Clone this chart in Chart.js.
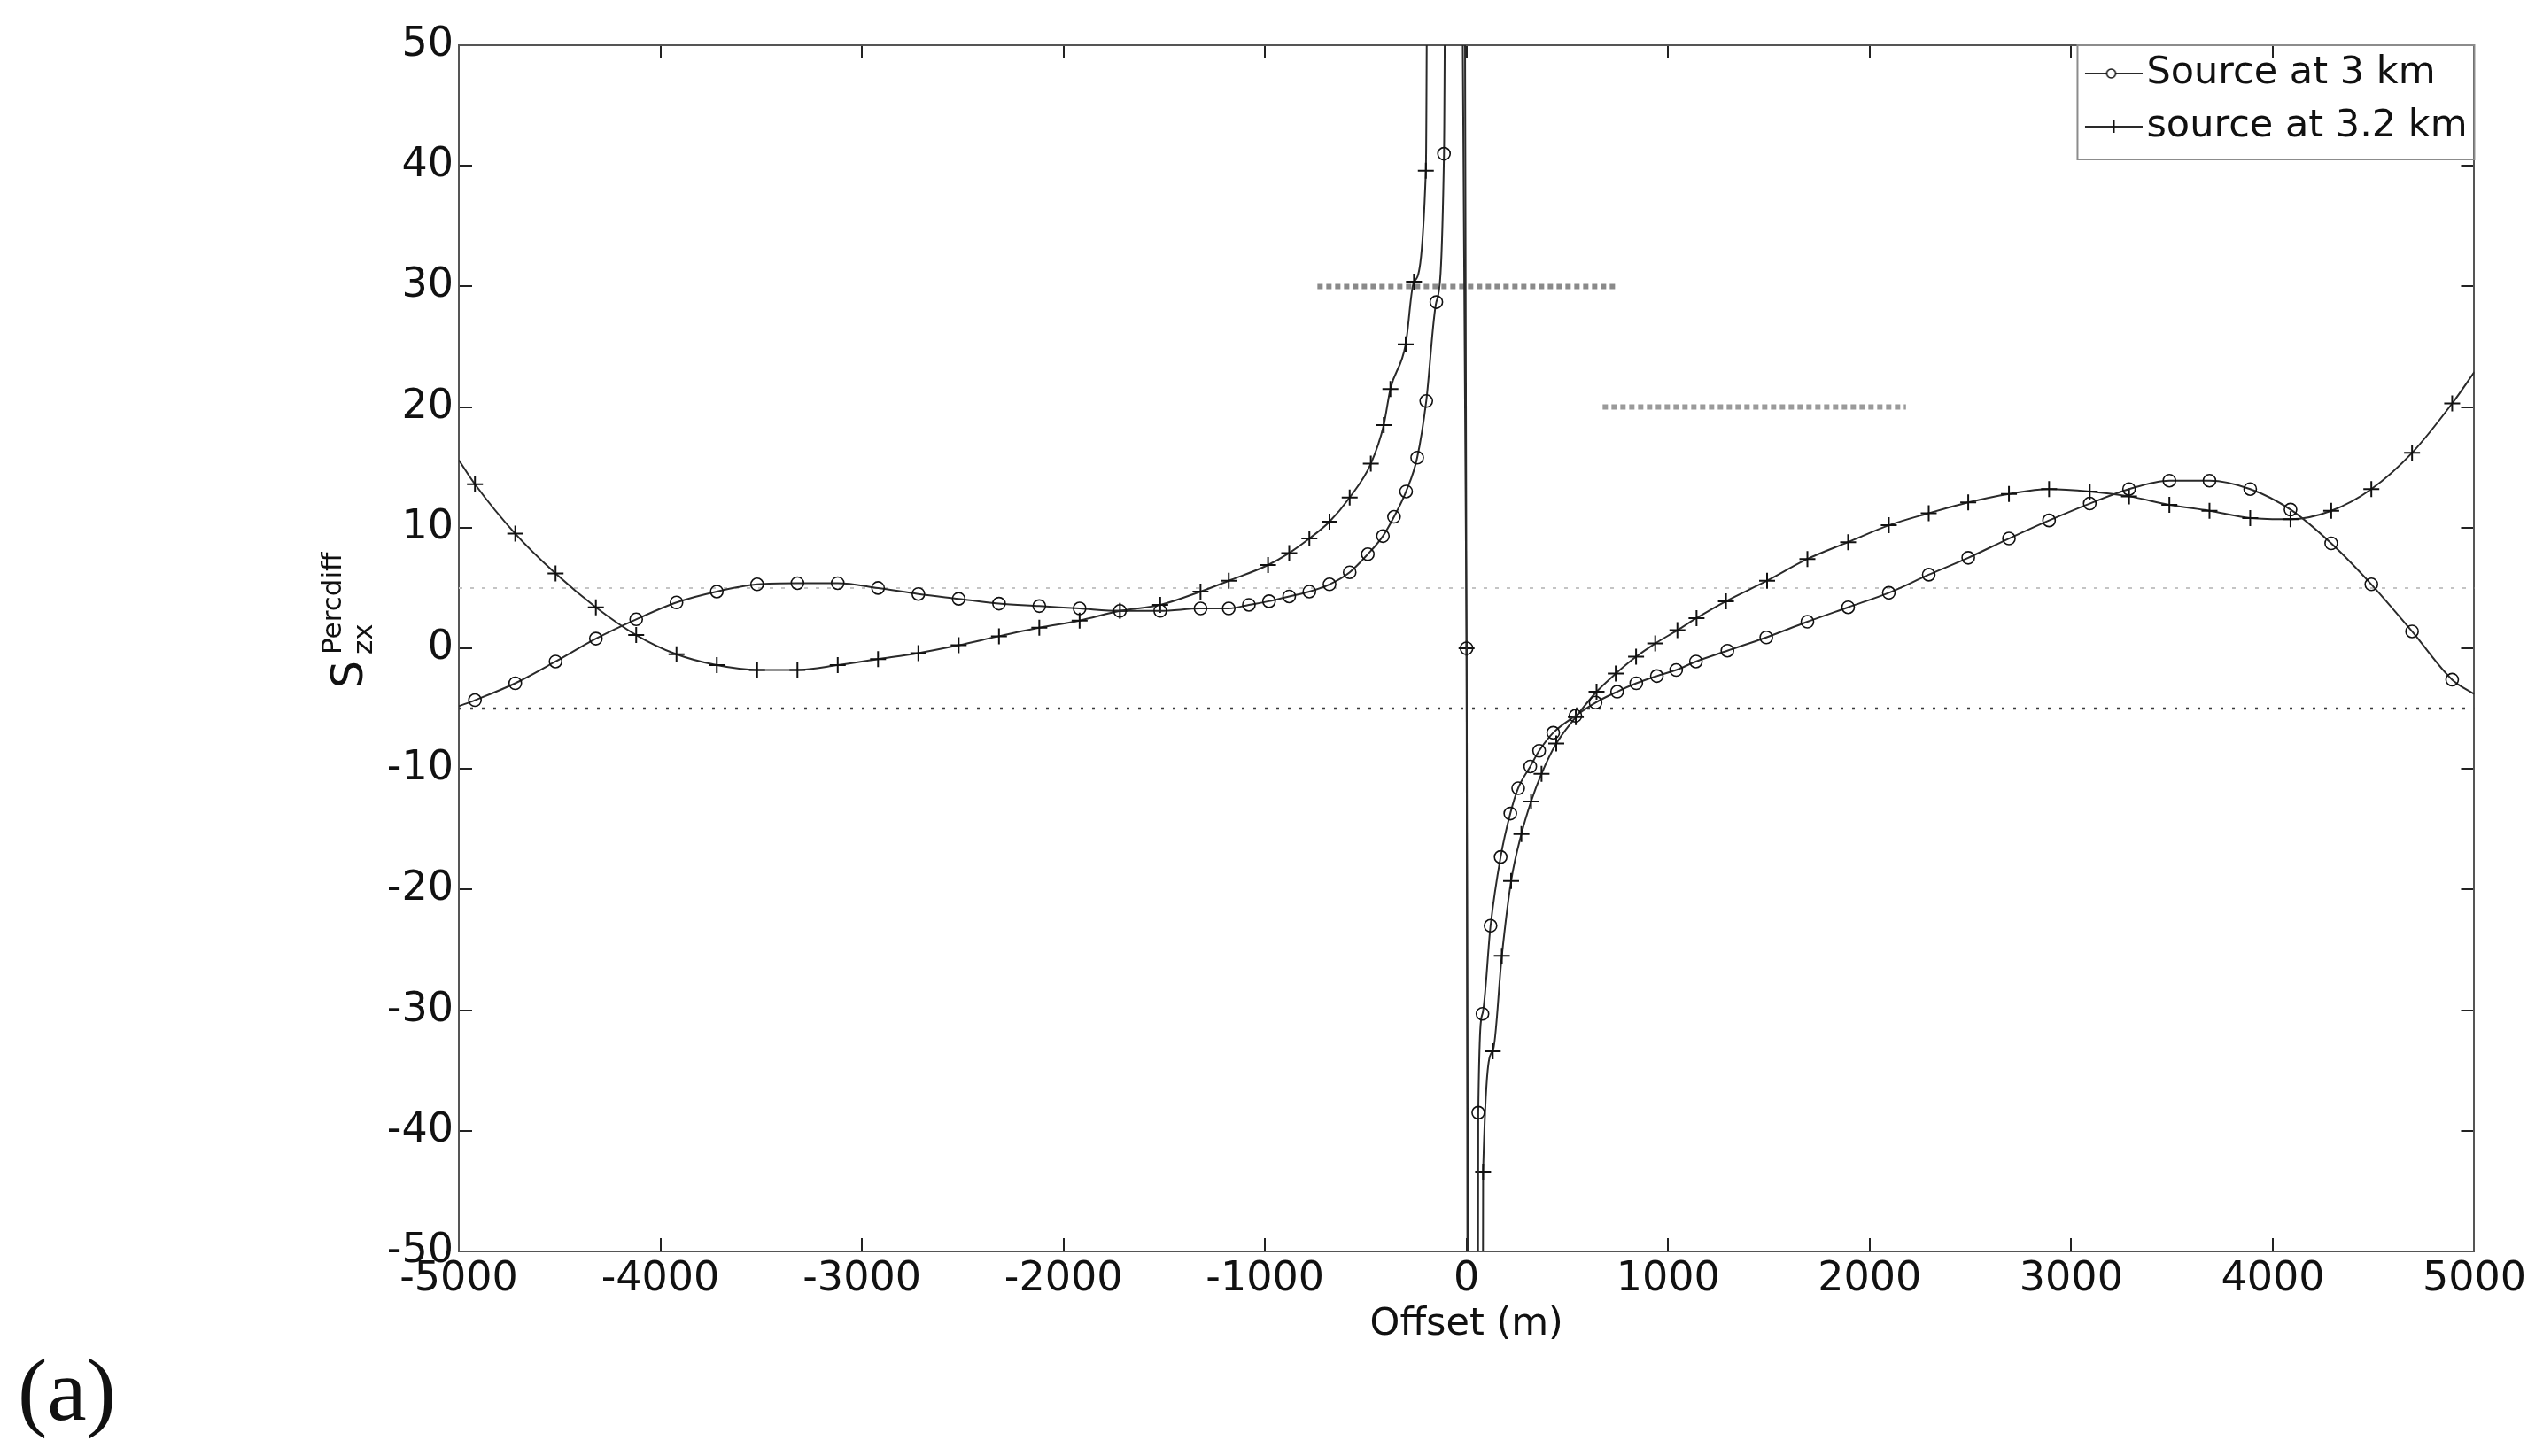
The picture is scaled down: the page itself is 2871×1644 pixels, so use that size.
<!DOCTYPE html>
<html>
<head>
<meta charset="utf-8">
<script src="https://cdn.jsdelivr.net/npm/chart.js@4.4.1/dist/chart.umd.min.js"></script>
<style>
  html, body { margin: 0; padding: 0; background: #ffffff; }
  #wrap { width: 2871px; height: 1644px; }
</style>
</head>
<body>
<div id="wrap"><canvas id="c" width="2871" height="1644" style="width:2871px;height:1644px"></canvas></div>
<script>
// ---------------- data ----------------
const xTicks = [-5000, -4000, -3000, -2000, -1000, 0, 1000, 2000, 3000, 4000, 5000];
const yTicks = [-50, -40, -30, -20, -10, 0, 10, 20, 30, 40, 50];

const seriesNames = ['Source at 3 km', 'source at 3.2 km'];

// Source at 3 km (circles)
const s1X = [-5000, -4920, -4720, -4520, -4320, -4120, -3920, -3720, -3520, -3320,
             -3120, -2920, -2720, -2520, -2320, -2120, -1920, -1720, -1520, -1320,
             -1180, -1080, -980, -880, -780, -680, -580, -490, -415, -360,
             -300, -245, -200, -150, -112, -60, 0, 30, 58, 79,
             119, 169, 217, 256, 316, 360, 430, 540, 640, 747,
             842, 944, 1040, 1138, 1294, 1487, 1691, 1893, 2095, 2293,
             2489, 2691, 2890, 3092, 3287, 3487, 3686, 3888, 4088, 4290,
             4489, 4691, 4890, 5000];
const s1Y = [-4.8, -4.3, -2.9, -1.1, 0.8, 2.4, 3.8, 4.7, 5.3, 5.4,
             5.4, 5.0, 4.5, 4.1, 3.7, 3.5, 3.3, 3.1, 3.1, 3.3,
             3.3, 3.6, 3.9, 4.3, 4.7, 5.3, 6.3, 7.8, 9.3, 10.9,
             13.0, 15.8, 20.5, 28.7, 41.0, 400, 0, -400, -38.5, -30.3,
             -23.0, -17.3, -13.7, -11.6, -9.8, -8.5, -7.0, -5.6, -4.5, -3.6,
             -2.9, -2.3, -1.8, -1.1, -0.2, 0.9, 2.2, 3.4, 4.6, 6.1,
             7.5, 9.1, 10.6, 12.0, 13.2, 13.9, 13.9, 13.2, 11.5, 8.7,
             5.3, 1.4, -2.6, -3.8];

// source at 3.2 km (plus)
const s2X = [-5000, -4920, -4720, -4520, -4320, -4120, -3920, -3720, -3520, -3320,
             -3120, -2920, -2720, -2520, -2320, -2120, -1920, -1720, -1520, -1320,
             -1180, -985, -880, -780, -680, -580, -475, -411, -378, -302,
             -261, -202, -150, 0, 50, 82, 130, 175, 221, 272,
             320, 372, 445, 542, 645, 740, 841, 936, 1046, 1141,
             1287, 1491, 1691, 1893, 2095, 2293, 2489, 2691, 2890, 3092,
             3287, 3487, 3686, 3888, 4088, 4290, 4489, 4691, 4890, 5000];
const s2Y = [15.6, 13.6, 9.5, 6.2, 3.4, 1.1, -0.5, -1.4, -1.8, -1.8,
             -1.4, -0.9, -0.4, 0.25, 1.0, 1.7, 2.3, 3.1, 3.6, 4.7,
             5.6, 6.9, 7.9, 9.1, 10.5, 12.5, 15.3, 18.5, 21.5, 25.2,
             30.4, 39.6, 400, 0, -400, -43.4, -33.4, -25.5, -19.3, -15.4,
             -12.7, -10.4, -7.9, -5.7, -3.6, -2.1, -0.7, 0.4, 1.5, 2.5,
             3.9, 5.6, 7.4, 8.8, 10.2, 11.2, 12.1, 12.8, 13.2, 13.0,
             12.6, 11.9, 11.4, 10.8, 10.7, 11.4, 13.2, 16.2, 20.3, 22.9];

// reference lines
const refX = [-5000, 5000];
const refUpperY = [5, 5];
const refLowerY = [-5, -5];
const hatch30X = [-740, 740];
const hatch30Y = [30, 30];
const hatch20X = [675, 2180];
const hatch20Y = [20, 20];

// ---------------- helpers ----------------
const zip = (xs, ys) => xs.map((x, i) => ({ x: x, y: ys[i] }));
const FONT = 'DejaVu Sans';
const LINE = '#2a2a2a';

function makeIcon(kind) {
  const c = document.createElement('canvas');
  c.width = 66; c.height = 20;
  const g = c.getContext('2d');
  g.strokeStyle = LINE; g.lineWidth = 2;
  g.beginPath(); g.moveTo(0, 10); g.lineTo(66, 10); g.stroke();
  g.strokeStyle = '#111';
  if (kind === 'circle') {
    g.beginPath(); g.arc(30, 10, 5, 0, Math.PI * 2);
    g.fillStyle = '#fff'; g.fill(); g.lineWidth = 1.6; g.stroke();
  } else {
    g.lineWidth = 2;
    g.beginPath(); g.moveTo(33, 3); g.lineTo(33, 17); g.stroke();
  }
  return c;
}
const icons = [makeIcon('circle'), makeIcon('cross')];

const markerRadius = (n, r) => (ctx) => (ctx.dataIndex === 0 || ctx.dataIndex === n - 1) ? 0 : r;

const tickGrid = {
  display: true, drawOnChartArea: false, drawTicks: true,
  tickLength: -15, color: '#222', lineWidth: 2
};
const axisBorder = { display: true, color: '#555', width: 2 };

// ---------------- plugins ----------------
const decorations = {
  id: 'decorations',
  afterLayout(chart) {
    const lg = chart.legend, ca = chart.chartArea;
    if (lg) {
      lg.left = ca.right - 439.5;
      lg.top = ca.top - 6.5;
    }
  },
  afterDraw(chart) {
    const ctx = chart.ctx, ca = chart.chartArea;
    ctx.save();
    // legend frame
    ctx.strokeStyle = '#8c8c8c';
    ctx.lineWidth = 2;
    ctx.strokeRect(ca.right - 448, ca.top, 448, 129);
    // y-axis title  S_zx^Percdiff
    ctx.fillStyle = '#111';
    ctx.translate(ca.left - 109, (ca.top + ca.bottom) / 2 + 45);
    ctx.rotate(-Math.PI / 2);
    ctx.textAlign = 'left';
    ctx.textBaseline = 'alphabetic';
    ctx.font = '49px "' + FONT + '"';
    ctx.fillText('S', 0, 0);
    ctx.font = '31px "' + FONT + '"';
    ctx.fillText('zx', 38, 11);
    ctx.fillText('Percdiff', 38, -24);
    ctx.restore();
    // panel label
    ctx.save();
    ctx.fillStyle = '#111';
    ctx.font = '100px "Liberation Serif"';
    ctx.textAlign = 'left';
    ctx.textBaseline = 'alphabetic';
    ctx.fillText('(a)', 20, 1603);
    ctx.restore();
  }
};

// ---------------- chart ----------------
const n1 = s1X.length, n2 = s2X.length;

new Chart(document.getElementById('c'), {
  type: 'line',
  data: {
    datasets: [
      {
        label: seriesNames[0],
        data: zip(s1X, s1Y),
        borderColor: LINE, borderWidth: 2,
        cubicInterpolationMode: 'monotone',
        pointStyle: 'circle',
        pointRadius: markerRadius(n1, 7),
        pointBorderColor: '#111', pointBorderWidth: 1.6,
        pointBackgroundColor: 'rgba(255,255,255,0)'
      },
      {
        label: seriesNames[1],
        data: zip(s2X, s2Y),
        borderColor: LINE, borderWidth: 2,
        cubicInterpolationMode: 'monotone',
        pointStyle: 'cross',
        pointRadius: markerRadius(n2, 9),
        pointBorderColor: '#111', pointBorderWidth: 2
      },
      {
        label: 'ref+5', data: zip(refX, refUpperY),
        borderColor: '#c4c4c4', borderWidth: 2, borderDash: [4, 9], pointRadius: 0
      },
      {
        label: 'ref-5', data: zip(refX, refLowerY),
        borderColor: '#3a3a3a', borderWidth: 2.5, borderDash: [3, 10], pointRadius: 0
      },
      {
        label: 'mark30', data: zip(hatch30X, hatch30Y),
        borderColor: '#8a8a8a', borderWidth: 6, borderDash: [6, 4], pointRadius: 0
      },
      {
        label: 'mark20', data: zip(hatch20X, hatch20Y),
        borderColor: '#9a9a9a', borderWidth: 6, borderDash: [6, 4], pointRadius: 0
      }
    ]
  },
  options: {
    responsive: false,
    devicePixelRatio: 1,
    animation: false,
    layout: { padding: { left: 0, right: 70, top: 51, bottom: 0 } },
    plugins: {
      tooltip: { enabled: false },
      legend: {
        display: true,
        position: 'chartArea',
        align: 'start',
        labels: {
          color: '#111',
          font: { family: FONT, size: 43 },
          padding: 17,
          usePointStyle: true,
          pointStyleWidth: 31,
          filter: (item) => item.datasetIndex < 2,
          generateLabels: (chart) => {
            const base = Chart.defaults.plugins.legend.labels.generateLabels(chart);
            return base.filter(it => it.datasetIndex < 2).map(it => {
              it.pointStyle = icons[it.datasetIndex];
              it.lineWidth = 0;
              return it;
            });
          }
        }
      }
    },
    scales: {
      x: {
        type: 'linear', position: 'bottom',
        min: xTicks[0], max: xTicks[xTicks.length - 1],
        afterBuildTicks: (s) => { s.ticks = xTicks.map(v => ({ value: v })); },
        ticks: {
          color: '#111', font: { family: FONT, size: 46 }, padding: 19,
          maxRotation: 0, autoSkip: false,
          callback: (v) => String(v)
        },
        grid: tickGrid,
        border: axisBorder,
        title: {
          display: true, text: 'Offset (m)', color: '#111',
          font: { family: FONT, size: 43 }, padding: { top: 0, bottom: 122 }
        },
        afterFit: (s) => { s.height = 231; }
      },
      y: {
        type: 'linear', position: 'left',
        min: yTicks[0], max: yTicks[yTicks.length - 1],
        afterBuildTicks: (s) => { s.ticks = yTicks.map(v => ({ value: v })); },
        ticks: {
          color: '#111', font: { family: FONT, size: 46 }, padding: 21,
          autoSkip: false, callback: (v) => String(v)
        },
        grid: tickGrid,
        border: axisBorder,
        afterFit: (s) => { s.width = 518; }
      },
      x2: {
        type: 'linear', position: 'top',
        min: xTicks[0], max: xTicks[xTicks.length - 1],
        afterBuildTicks: (s) => { s.ticks = xTicks.map(v => ({ value: v })); },
        ticks: { display: false },
        grid: tickGrid,
        border: axisBorder,
        afterFit: (s) => { s.height = 0; }
      },
      y2: {
        type: 'linear', position: 'right',
        min: yTicks[0], max: yTicks[yTicks.length - 1],
        afterBuildTicks: (s) => { s.ticks = yTicks.map(v => ({ value: v })); },
        ticks: { display: false },
        grid: tickGrid,
        border: axisBorder,
        afterFit: (s) => { s.width = 0; }
      }
    }
  },
  plugins: [decorations]
});
</script>
</body>
</html>
